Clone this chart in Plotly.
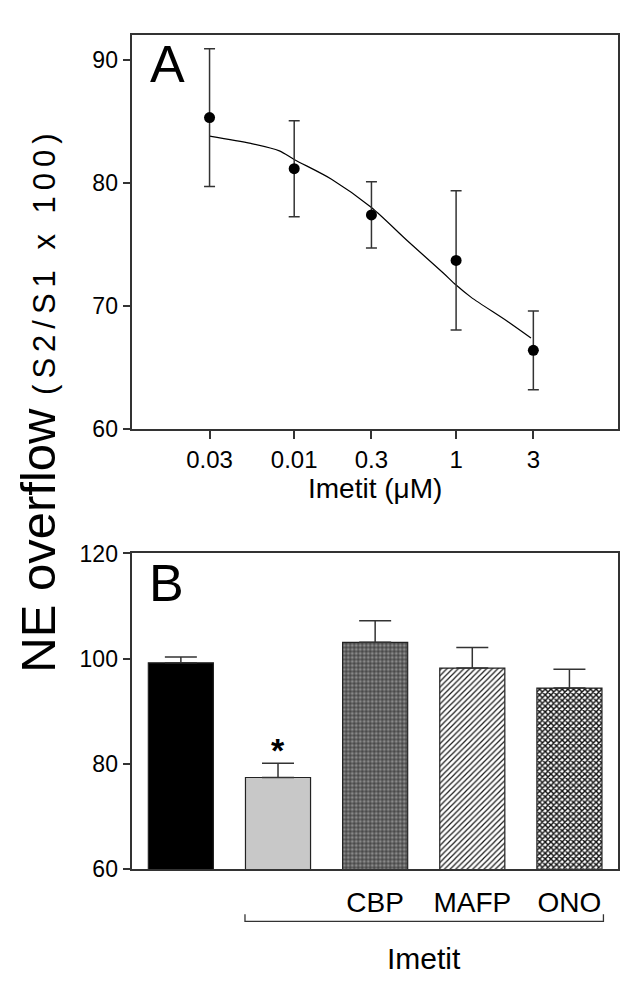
import plotly.graph_objects as go

# ---------------- data ----------------
# Panel A: concentration-response
dose_x = [0.03, 0.1, 0.3, 1, 3]
dose_tick_text = ["0.03", "0.01", "0.3", "1", "3"]
dose_mean = [85.3, 81.15, 77.4, 73.7, 66.4]
dose_err = [5.6, 3.9, 2.7, 5.65, 3.2]

# fitted curve
curve_x = [0.03, 0.054, 0.081, 0.1, 0.17, 0.3, 0.5, 0.83, 1.0, 1.24, 2.05, 2.9]
curve_y = [83.8, 83.2, 82.6, 81.9, 80.3, 78.0, 75.3, 72.7, 71.7, 70.7, 68.8, 67.4]

# Panel B: bars
bar_cats = ["c0", "c1", "c2", "c3", "c4"]
bar_labels = ["", "", "CBP", "MAFP", "ONO"]
bar_vals = [99.2, 77.4, 103.1, 98.2, 94.4]
bar_err = [1.1, 2.7, 4.1, 3.9, 3.6]

# bar fill styles
bar_color = ["#000000", "#c8c8c8", "#8a8a8a", "#ffffff", "#ffffff"]
bar_shape = ["", "", "+", "/", "x"]
bar_fg = ["#000000", "#c8c8c8", "#2e2e2e", "#1a1a1a", "#111111"]
bar_psize = [6, 6, 4, 4, 4]
bar_solid = [0.3, 0.3, 0.4, 0.3, 0.6]

W, H = 638, 993
FONT = "Liberation Sans, Arial, sans-serif"
AX = "#333333"

def px_x(p):
    return p / W

def px_y(p):
    return 1 - p / H

fig = go.Figure()

# Panel A
fig.add_trace(go.Scatter(
    x=curve_x, y=curve_y, mode="lines",
    line=dict(color="black", width=1.2, shape="spline", smoothing=0.8),
    xaxis="x", yaxis="y", showlegend=False, hoverinfo="skip"))
fig.add_trace(go.Scatter(
    x=dose_x, y=dose_mean, mode="markers",
    marker=dict(color="black", size=11),
    error_y=dict(type="data", array=dose_err, visible=True,
                 color=AX, thickness=1.5, width=5.5),
    xaxis="x", yaxis="y", showlegend=False))

# Panel B: one trace per bar so each gets its own fill pattern
for i in range(len(bar_cats)):
    pat = dict(shape=bar_shape[i], fgcolor=bar_fg[i], bgcolor=bar_color[i],
               size=bar_psize[i], solidity=bar_solid[i], fillmode="replace")
    fig.add_trace(go.Bar(
        x=[bar_cats[i]], y=[bar_vals[i]],
        marker=dict(color=bar_color[i], line=dict(color="#222222", width=1.2),
                    pattern=pat),
        error_y=dict(type="data", symmetric=False, array=[bar_err[i]],
                     arrayminus=[0], visible=True,
                     color=AX, thickness=1.5, width=16),
        xaxis="x2", yaxis="y2", showlegend=False))

axis_common = dict(showline=True, linecolor=AX, linewidth=1.5, mirror=True,
                   ticks="outside", ticklen=8, tickwidth=1.5, tickcolor=AX,
                   showgrid=False, zeroline=False,
                   tickfont=dict(family=FONT, size=23, color="black"))

fig.update_layout(
    width=W, height=H,
    margin=dict(l=0, r=0, t=0, b=0),
    paper_bgcolor="white", plot_bgcolor="white",
    barmode="overlay", bargap=0.33,
    xaxis=dict(axis_common, type="log", range=[-2, 1],
               domain=[px_x(132.3), px_x(618)],
               tickvals=dose_x, ticktext=dose_tick_text, anchor="y",
               tickfont=dict(family=FONT, size=24, color="black"),
               title=dict(text="Imetit (μM)", font=dict(family=FONT, size=28, color="black"),
                          standoff=0)),
    yaxis=dict(axis_common, range=[60, 92], tickvals=[60, 70, 80, 90],
               domain=[px_y(427.3), px_y(22.7)], anchor="x"),
    xaxis2=dict(axis_common, type="category", range=[-0.5, 4.5],
                domain=[px_x(132.3), px_x(618)], anchor="y2",
                ticks="", tickvals=bar_cats, ticktext=bar_labels,
                ticklabelstandoff=8,
                tickfont=dict(family=FONT, size=28, color="black")),
    yaxis2=dict(axis_common, range=[60, 120], tickvals=[60, 80, 100, 120],
                domain=[px_y(879), px_y(555)], anchor="x2"),
)

annotations = [
    dict(text="A", x=px_x(167), y=px_y(52), xref="paper", yref="paper",
         showarrow=False, font=dict(family=FONT, size=52, color="black"),
         xanchor="center", yanchor="middle"),
    dict(text="B", x=px_x(166), y=px_y(585), xref="paper", yref="paper",
         showarrow=False, font=dict(family=FONT, size=52, color="black"),
         xanchor="center", yanchor="middle"),
    dict(text="<b>*</b>", x=bar_cats[1], y=bar_vals[1] + bar_err[1] + 2.5,
         xref="x2", yref="y2", showarrow=False,
         font=dict(family=FONT, size=34, color="black"),
         xanchor="center", yanchor="middle"),
    dict(text="Imetit", x=2.5, y=px_y(971), xref="x2", yref="paper",
         showarrow=False, font=dict(family=FONT, size=30, color="black"),
         xanchor="center", yanchor="middle"),
    dict(text="NE overflow <span style='font-size:31px;letter-spacing:6px'>(S2/S1 x 100)</span>",
         x=px_x(38), y=px_y(680), xref="paper", yref="paper",
         textangle=-90, showarrow=False,
         font=dict(family=FONT, size=49, color="black"),
         xanchor="center", yanchor="bottom"),
]
fig.update_layout(annotations=annotations)

# bracket under Imetit-treated bars
yb, yt = px_y(932.7), px_y(925.5)
fig.add_shape(type="path", xref="x2", yref="paper",
              path=f"M 0.66,{yt} L 0.66,{yb} L 4.35,{yb} L 4.35,{yt}",
              line=dict(color=AX, width=1.3))

fig.write_html("out.html", config={"displayModeBar": False},
               post_script="document.body.style.margin='0';document.body.style.overflow='hidden';")
